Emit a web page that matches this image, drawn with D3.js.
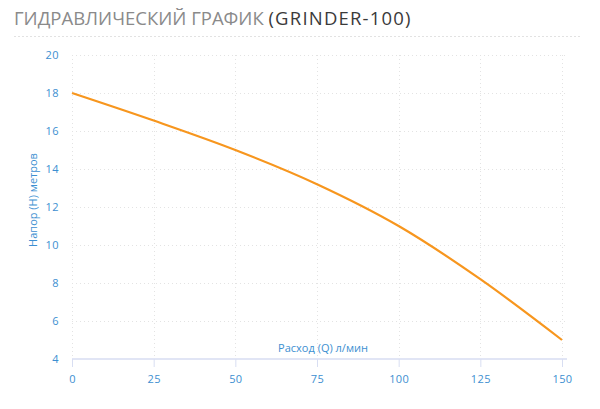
<!DOCTYPE html>
<html><head><meta charset="utf-8">
<script src="https://cdn.jsdelivr.net/npm/d3@7/dist/d3.min.js"></script>
<style>
html,body{margin:0;padding:0;background:#fff;}
svg{display:block;font-family:"Open Sans",sans-serif;}
</style></head>
<body>
<svg id="c" width="600" height="409"></svg>
<script>
const flow = [0, 25, 50, 75, 100, 125, 150];
const head = [18, 16.55, 15.0, 13.2, 11.0, 8.2, 5.0];
const yTicks = [4, 6, 8, 10, 12, 14, 16, 18, 20];
const xTicks = [0, 25, 50, 75, 100, 125, 150];
const titleMain = "ГИДРАВЛИЧЕСКИЙ ГРАФИК ";
const titleModel = "(GRINDER-100)";
const xTitle = "Расход (Q) л/мин";
const yTitle = "Напор (Н) метров";

const svg = d3.select("#c");
const x = d3.scaleLinear().domain([0, 150]).range([72, 562]);
const y = d3.scaleLinear().domain([4, 20]).range([359, 55]);

// title
const t = svg.append("text").attr("x", 14).attr("y", 25).attr("font-size", 18.5);
t.append("tspan").attr("fill", "#8a8a8a").text(titleMain);
t.append("tspan").attr("fill", "#3a3a3a").attr("letter-spacing", 1.2).text(titleModel);
svg.append("line").attr("x1", 14).attr("x2", 582).attr("y1", 36.5).attr("y2", 36.5)
  .attr("stroke", "#e2e2e2").attr("stroke-dasharray", "2,2");

// grid
const g = svg.append("g");
g.selectAll("line.h").data(yTicks.filter(d => d > 4)).join("line")
  .attr("x1", x(0)).attr("x2", x(150) + 5)
  .attr("y1", d => Math.round(y(d)) + 0.5).attr("y2", d => Math.round(y(d)) + 0.5)
  .attr("stroke", "#e3e3e3").attr("stroke-dasharray", "1,3");
g.selectAll("line.v").data(xTicks).join("line")
  .attr("y1", y(20)).attr("y2", y(4))
  .attr("x1", d => Math.round(x(d)) + 0.5).attr("x2", d => Math.round(x(d)) + 0.5)
  .attr("stroke", "#e3e3e3").attr("stroke-dasharray", "1,3");

// x axis
const xa = svg.append("g").attr("transform", `translate(0,${y(4)})`)
  .call(d3.axisBottom(x).tickValues(xTicks).tickSize(8).tickPadding(8));
xa.select(".domain").attr("stroke", "#e1e5f5").attr("stroke-width", 2)
  .attr("d", `M${x(0)},0H${x(150) + 5}`);
xa.selectAll(".tick line").attr("stroke", "#d8def2").attr("stroke-width", 1);
xa.selectAll(".tick text").attr("fill", "#3d8fd1").attr("font-size", 11)
  .attr("letter-spacing", 0.4).attr("font-family", "Open Sans");

// y axis
const ya = svg.append("g").attr("transform", `translate(${x(0)},0)`)
  .call(d3.axisLeft(y).tickValues(yTicks).tickSize(0).tickPadding(13));
ya.select(".domain").remove();
ya.selectAll(".tick text").attr("fill", "#3d8fd1").attr("font-size", 11)
  .attr("letter-spacing", 0.4).attr("font-family", "Open Sans");

// axis titles
svg.append("text").attr("x", 323).attr("y", 352).attr("text-anchor", "middle")
  .attr("fill", "#3d8fd1").attr("font-size", 11).text(xTitle);
svg.append("text").attr("transform", "translate(37,200) rotate(-90)")
  .attr("text-anchor", "middle").attr("fill", "#3d8fd1").attr("font-size", 11).text(yTitle);

// curve
const line = d3.line().x((d, i) => x(flow[i])).y(d => y(d)).curve(d3.curveMonotoneX);
svg.append("path").datum(head).attr("d", line).attr("fill", "none")
  .attr("stroke", "#f7961e").attr("stroke-width", 2.2);
</script>
</body></html>
